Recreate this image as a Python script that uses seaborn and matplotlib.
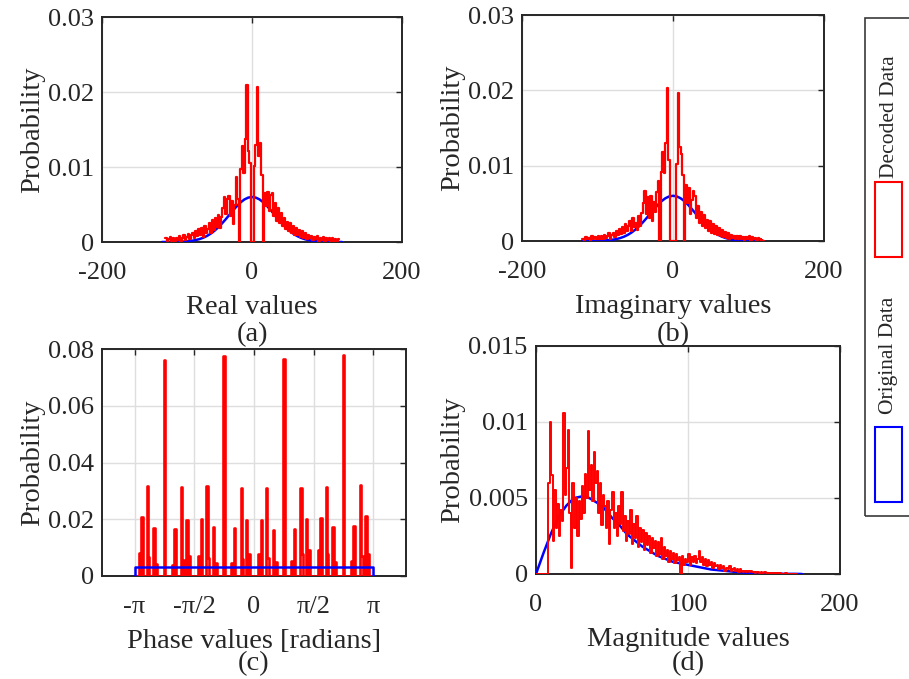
import numpy as np
import matplotlib
matplotlib.use("Agg")
import matplotlib.pyplot as plt
from matplotlib.patches import Rectangle
from matplotlib.ticker import FuncFormatter
import seaborn as sns

# ---------------- data ----------------
# Histogram of the real part of the decoded symbols (bin width 2, first edge -116)
real_start, real_width = -116, 2
real_prob = [
    0.0005, 0.0001, 0.0004, 0.0007, 0.0002, 0.0005, 0.0001, 0.0006,
    0.0003, 0.0008, 0.0002, 0.0006, 0.0009, 0.0003, 0.0007, 0.0011, 0.0004, 0.0009,
    0.0012, 0.0005, 0.0015, 0.0008, 0.0017, 0.0010, 0.0019, 0.0007, 0.0021, 0.0012,
    0.0018, 0.0026, 0.0012, 0.0029, 0.0016, 0.0032, 0.0020, 0.0036, 0.0019, 0.0034,
    0.0045, 0.0060, 0.0038, 0.0057, 0.0062, 0.0035, 0.0055, 0.0024, 0.0050, 0.0087,
    0.0058, 0.0000, 0.0098, 0.0128, 0.0092, 0.0138, 0.0209, 0.0122, 0.0105,
    0.0000, 0.0000,
    0.0102, 0.0130, 0.0207, 0.0115, 0.0132, 0.0090, 0.0000, 0.0066, 0.0048,
    0.0067, 0.0042, 0.0063, 0.0066, 0.0035, 0.0052, 0.0028, 0.0045, 0.0025, 0.0038,
    0.0022, 0.0032, 0.0017, 0.0027, 0.0014, 0.0025, 0.0012, 0.0021, 0.0010, 0.0018,
    0.0009, 0.0016, 0.0007, 0.0014, 0.0006, 0.0012, 0.0004, 0.0010, 0.0005, 0.0008,
    0.0003, 0.0007, 0.0004, 0.0008, 0.0002, 0.0006, 0.0003, 0.0007, 0.0002, 0.0005,
    0.0003, 0.0006, 0.0002, 0.0005, 0.0001, 0.0004, 0.0002, 0.0004,
]

# Histogram of the imaginary part of the decoded symbols (bin width 2, first edge -120)
imag_start, imag_width = -120, 2
imag_prob = [
    0.0003, 0.0001, 0.0005, 0.0002, 0.0004, 0.0001, 0.0006, 0.0002, 0.0005, 0.0003,
    0.0006, 0.0002, 0.0007, 0.0003, 0.0008, 0.0004, 0.0006, 0.0010, 0.0003, 0.0008,
    0.0011, 0.0005, 0.0013, 0.0008, 0.0016, 0.0009, 0.0019, 0.0011, 0.0023, 0.0013,
    0.0020, 0.0027, 0.0013, 0.0030, 0.0018, 0.0024, 0.0015, 0.0033, 0.0020, 0.0037,
    0.0050, 0.0066, 0.0036, 0.0058, 0.0030, 0.0060, 0.0027, 0.0052, 0.0038, 0.0065,
    0.0080, 0.0000, 0.0092, 0.0118, 0.0090, 0.0130, 0.0203, 0.0108,
    0.0000, 0.0000, 0.0000, 0.0000,
    0.0102, 0.0197, 0.0125, 0.0115, 0.0088, 0.0000, 0.0075, 0.0050,
    0.0070, 0.0036, 0.0055, 0.0066, 0.0060, 0.0030, 0.0046, 0.0024, 0.0038, 0.0020,
    0.0034, 0.0017, 0.0028, 0.0013, 0.0026, 0.0011, 0.0023, 0.0009, 0.0020, 0.0008,
    0.0017, 0.0007, 0.0014, 0.0005, 0.0012, 0.0004, 0.0010, 0.0003, 0.0008, 0.0004,
    0.0007, 0.0002, 0.0006, 0.0003, 0.0007, 0.0002, 0.0005, 0.0001, 0.0005, 0.0002,
    0.0006, 0.0001, 0.0005, 0.0002, 0.0004, 0.0001, 0.0004, 0.0003, 0.0001, 0.0000,
]

# Original data: Gaussian-shaped distribution of the real / imaginary parts
gauss_x = np.arange(-120, 121, 5)
gauss_half = [0.0060, 0.00592, 0.00568, 0.00530, 0.00480, 0.00424, 0.00364, 0.00304,
              0.00247, 0.00195, 0.00150, 0.00112, 0.00081, 0.00057, 0.00039, 0.00026,
              0.00017, 0.00011, 0.00007, 0.00004, 0.00002, 0.00001, 0.00001, 0.0, 0.0]
gauss_prob = gauss_half[:0:-1] + gauss_half

# Phase histogram of the decoded symbols: peak locations (rad) and probabilities
phase_peaks = [
    -3.03, -2.95, -2.82, -2.79, -2.62, -2.58, -2.35, -2.13, -2.09, -1.89, -1.85, -1.75, -1.68,
    -1.46, -1.38, -1.25, -1.22, -1.05, -1.01, -0.78, -0.56, -0.52, -0.32, -0.28, -0.18, -0.11,
    0.11, 0.19, 0.32, 0.35, 0.52, 0.56, 0.79, 1.01, 1.05, 1.25, 1.29, 1.39, 1.46,
    1.68, 1.76, 1.89, 1.92, 2.09, 2.13, 2.36, 2.58, 2.62, 2.82, 2.86, 2.96, 3.03,
]
phase_probs = [
    0.0082, 0.0208, 0.0317, 0.0066, 0.0169, 0.0043, 0.0762, 0.0040, 0.0164, 0.0315, 0.0058, 0.0196, 0.0071,
    0.0072, 0.0202, 0.0317, 0.0064, 0.0173, 0.0045, 0.0774, 0.0045, 0.0170, 0.0311, 0.0060, 0.0196, 0.0078,
    0.0078, 0.0196, 0.0309, 0.0064, 0.0163, 0.0049, 0.0765, 0.0054, 0.0167, 0.0311, 0.0078, 0.0202, 0.0092,
    0.0092, 0.0205, 0.0314, 0.0078, 0.0173, 0.0049, 0.0780, 0.0052, 0.0175, 0.0321, 0.0072, 0.0212, 0.0078,
]
phase_bins = 180
phase_uniform_prob = 0.0033
phase_tick_labels = ["-\u03c0", "-\u03c0/2", "0", "\u03c0/2", "\u03c0"]

# Magnitude histogram of the decoded symbols (bin width 1, first edge 0)
mag_start, mag_width = 0, 1
mag_prob = [
    0.0, 0.0, 0.0, 0.0, 0.0, 0.0, 0.0, 0.0, 0.0060, 0.0100,
    0.0065, 0.0022, 0.0055, 0.0030, 0.0046, 0.0025, 0.0042, 0.0035, 0.0106, 0.0052,
    0.0070, 0.0095, 0.0040, 0.0004, 0.0060, 0.0030, 0.0050, 0.0025, 0.0048, 0.0036,
    0.0058, 0.0040, 0.0066, 0.0050, 0.0094, 0.0055, 0.0072, 0.0048, 0.0080, 0.0060,
    0.0068, 0.0040, 0.0060, 0.0032, 0.0052, 0.0045, 0.0030, 0.0048, 0.0020, 0.0042,
    0.0054, 0.0030, 0.0040, 0.0025, 0.0045, 0.0033, 0.0054, 0.0028, 0.0038, 0.0022,
    0.0035, 0.0026, 0.0042, 0.0020, 0.0033, 0.0024, 0.0038, 0.0018, 0.0030, 0.0021,
    0.0029, 0.0016, 0.0027, 0.0019, 0.0025, 0.0014, 0.0024, 0.0017, 0.0022, 0.0012,
    0.0021, 0.0013, 0.0024, 0.0010, 0.0018, 0.0012, 0.0016, 0.0008, 0.0015, 0.0010,
    0.0014, 0.0007, 0.0013, 0.0009, 0.0011, 0.0000, 0.0012, 0.0006, 0.0010, 0.0008,
    0.0013, 0.0006, 0.0011, 0.0008, 0.0012, 0.0007, 0.0010, 0.0015, 0.0008, 0.0011,
    0.0006, 0.0010, 0.0005, 0.0009, 0.0006, 0.0008, 0.0004, 0.0007, 0.0005, 0.0006,
    0.0003, 0.0006, 0.0004, 0.0005, 0.0002, 0.0004, 0.0003, 0.0005, 0.0002, 0.0003,
    0.0004, 0.0002, 0.0003, 0.0001, 0.0003, 0.0002, 0.0001, 0.0002, 0.0001, 0.0002,
    0.0001, 0.0002, 0.0001, 0.00015, 0.00005, 0.0001, 0.00015, 0.00005, 0.0001, 0.00005,
    0.0001, 0.00005, 0.00008, 0.00003, 0.00006, 0.00004, 0.00006, 0.00002, 0.00005, 0.00003,
    0.00004, 0.00002, 0.00003, 0.00002, 0.00004, 0.00001, 0.00003, 0.00002, 0.00002, 0.00001,
    0.00002, 0.00001,
]

# Original data: Rayleigh-like magnitude distribution
mag_x = np.arange(0, 176, 5)
mag_orig_prob = [0.0, 0.0014, 0.0027, 0.0038, 0.0045, 0.0050, 0.0051, 0.0050, 0.0047,
                 0.0043, 0.0037, 0.0032, 0.0026, 0.0022, 0.0018, 0.0015, 0.0012, 0.0010,
                 0.0008, 0.0007, 0.0006, 0.0005, 0.0004, 0.0003, 0.00025, 0.0002, 0.00015,
                 0.0001, 0.00008, 0.00006, 0.00004, 0.00003, 0.00002, 0.00001, 0.00001, 0.0]

legend_labels = ["Original Data", "Decoded Data"]
panel_tags = ["(a)", "(b)", "(c)", "(d)"]
x_labels = ["Real values", "Imaginary values", "Phase values [radians]", "Magnitude values"]

# ---------------- style ----------------
sns.set_style("white")
plt.rcParams["font.family"] = ["Liberation Serif", "DejaVu Serif"]
plt.rcParams["axes.unicode_minus"] = False

RED = "#ff0000"
BLUE = "#0000ff"
INK = "#262626"
W, H = 909, 679

fig = plt.figure(figsize=(W / 100, H / 100), dpi=100)


def px_axes(left, top, right, bottom):
    return fig.add_axes([left / W, 1 - bottom / H, (right - left) / W, (bottom - top) / H])


ax_a = px_axes(102, 17, 402, 242)
ax_b = px_axes(522, 15, 824, 241)
ax_c = px_axes(102, 349, 406, 576)
ax_d = px_axes(536, 346, 840, 574)
axes = [ax_a, ax_b, ax_c, ax_d]


def step_hist(ax, start, width, probs, color, z, lw=1.6):
    probs = np.asarray(probs, dtype=float)
    edges = start + width * np.arange(len(probs) + 1)
    centers = edges[:-1] + width / 2
    sns.histplot(x=centers, weights=probs, bins=edges.tolist(), element="step", fill=False,
                 color=color, linewidth=lw, ax=ax, zorder=z)


# (a) real part
sns.lineplot(x=gauss_x, y=gauss_prob, color=BLUE, linewidth=1.8, ax=ax_a, zorder=3)
step_hist(ax_a, real_start, real_width, real_prob, RED, 4)

# (b) imaginary part
sns.lineplot(x=gauss_x, y=gauss_prob, color=BLUE, linewidth=1.8, ax=ax_b, zorder=3)
step_hist(ax_b, imag_start, imag_width, imag_prob, RED, 4)

# (c) phase
phase_edges = np.linspace(-np.pi, np.pi, phase_bins + 1).tolist()
sns.histplot(x=phase_peaks, weights=phase_probs, bins=phase_edges, element="step",
             fill=False, color=RED, linewidth=1.9, ax=ax_c, zorder=3)
pad = 0.02
sns.histplot(x=[-np.pi - pad / 2, 0.0, np.pi + pad / 2], weights=[0.0, phase_uniform_prob, 0.0],
             bins=[-np.pi - pad, -np.pi, np.pi, np.pi + pad], element="step", fill=False,
             color=BLUE, linewidth=1.8, ax=ax_c, zorder=4)

# (d) magnitude
sns.lineplot(x=mag_x, y=mag_orig_prob, color=BLUE, linewidth=1.8, ax=ax_d, zorder=3)
step_hist(ax_d, mag_start, mag_width, mag_prob, RED, 4, lw=1.4)

# ---------------- axes cosmetics ----------------
fmt = FuncFormatter(lambda v, p: "%g" % v)
limits = [((-200, 200), (0, 0.03)), ((-200, 200), (0, 0.03)),
          ((-4, 4), (0, 0.08)), ((0, 200), (0, 0.015))]
xticks = [[-200, 0, 200], [-200, 0, 200],
          [-np.pi, -np.pi / 2, 0, np.pi / 2, np.pi], [0, 100, 200]]
yticks = [[0, 0.01, 0.02, 0.03], [0, 0.01, 0.02, 0.03],
          [0, 0.02, 0.04, 0.06, 0.08], [0, 0.005, 0.01, 0.015]]

for ax, (xl, yl), xt, yt, lab in zip(axes, limits, xticks, yticks, x_labels):
    ax.set_xlim(*xl)
    ax.set_ylim(*yl)
    ax.set_xticks(xt)
    ax.set_yticks(yt)
    ax.yaxis.set_major_formatter(fmt)
    if ax is not ax_c:
        ax.xaxis.set_major_formatter(fmt)
    ax.grid(True, color="#dedede", linewidth=1.0)
    ax.set_axisbelow(True)
    for s in ax.spines.values():
        s.set_visible(True)
        s.set_color(INK)
        s.set_linewidth(1.4)
    ax.tick_params(axis="both", direction="in", length=4, width=1.0, top=True, right=True,
                   colors=INK, labelsize=19)
    ax.tick_params(axis="x", pad=14.5)
    ax.tick_params(axis="y", pad=6)
    ax.set_xlabel(lab, fontsize=20.5, color=INK, labelpad=7.5)
    ax.set_ylabel("Probability", fontsize=20.5, color=INK, labelpad=2)

ax_c.set_xticklabels(phase_tick_labels)

# panel tags under the axis titles
tag_pos = [(252, 335), (673, 335), (254, 664), (688, 664)]
for tag, (tx, ty) in zip(panel_tags, tag_pos):
    fig.text(tx / W, 1 - ty / H, tag, ha="center", va="center", fontsize=20.5, color=INK)

# ---------------- rotated legend ----------------
fig.add_artist(Rectangle((865 / W, 1 - 516 / H), 60 / W, 498 / H, transform=fig.transFigure,
                         fill=False, edgecolor="#3a3a3a", linewidth=1.2))
entries = [(legend_labels[1], RED, 117, 182), (legend_labels[0], BLUE, 355, 427)]
for text, col, ty, ptop in entries:
    fig.add_artist(Rectangle((875 / W, 1 - (ptop + 75) / H), 27 / W, 75 / H,
                             transform=fig.transFigure, fill=False, edgecolor=col, linewidth=1.5))
    fig.text(889 / W, 1 - ty / H, text, rotation=90, ha="center", va="center",
             fontsize=15.5, color=INK)

fig.savefig("out.png", dpi=100, facecolor="white")
